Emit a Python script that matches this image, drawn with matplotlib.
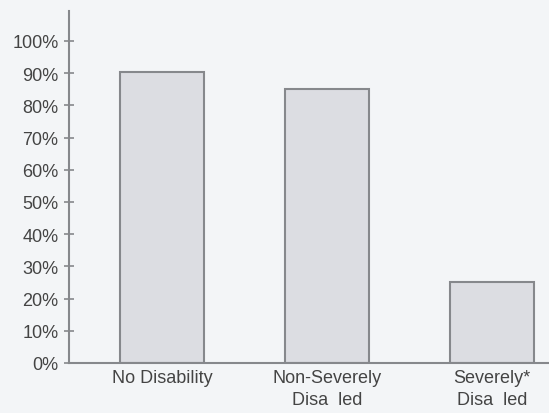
import matplotlib.pyplot as plt
import numpy as np

# data
groups = ['No Disability', 'Non-Severely\nDisa  led', 'Severely*\nDisa  led']
employed_pct = [90.5, 85, 25]
y_ticks = np.arange(0, 101, 10)
y_tick_labels = [f'{t}%' for t in y_ticks]

bg = '#f3f5f7'
fill = '#dcdde2'
edge = '#86888c'
txt = '#444444'

plt.rcParams['font.family'] = ['Liberation Sans', 'DejaVu Sans']

fig = plt.figure(figsize=(5.49, 4.14), dpi=100, facecolor=bg)
ax = fig.add_axes([69 / 549, 1 - 364 / 414, 480 / 549, 352 / 414])
ax.set_facecolor(bg)

x = np.arange(len(groups))
ax.bar(x, employed_pct, width=0.51, color=fill, edgecolor=edge, linewidth=1.5)

ax.set_xlim(-0.5636, 2.345)
ax.set_ylim(0, 109.3)

ax.set_yticks(y_ticks)
ax.set_yticklabels(y_tick_labels)
ax.set_xticks(x)
ax.set_xticklabels(groups, linespacing=1.45)

ax.tick_params(axis='y', direction='inout', length=7, width=1.2, color=edge,
               labelsize=13, labelcolor=txt, pad=4)
ax.tick_params(axis='x', length=0, labelsize=13, labelcolor=txt, pad=4)

for s in ['top', 'right']:
    ax.spines[s].set_visible(False)
for s in ['left', 'bottom']:
    ax.spines[s].set_color(edge)
    ax.spines[s].set_linewidth(1.5)

fig.savefig('out.png', dpi=100, facecolor=bg)
